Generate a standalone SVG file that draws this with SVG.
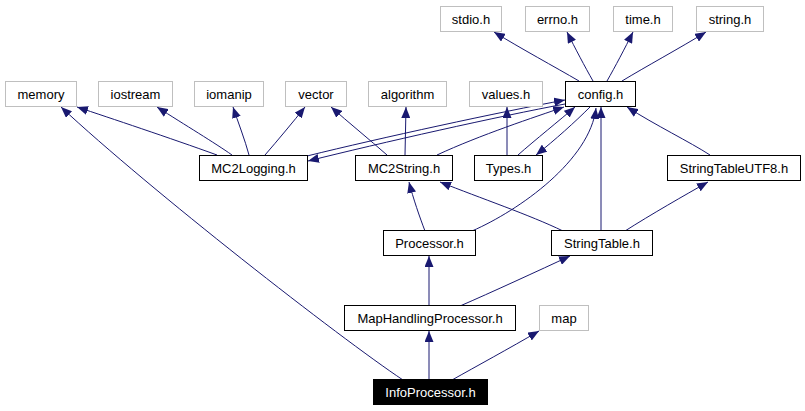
<svg xmlns="http://www.w3.org/2000/svg" width="805" height="411" viewBox="0 0 805 411">
<style>
.n rect{fill:#fff;stroke:#000;stroke-width:1}
.g rect{fill:#fff;stroke:#bfbfbf;stroke-width:1}
.r rect{fill:#000;stroke:#000;stroke-width:1}
text{font-family:"Liberation Sans",Arial,sans-serif;font-size:13px;text-anchor:middle;fill:#000}
.r text{fill:#fff}
#edges path{fill:none;stroke:#191970;stroke-width:1;marker-end:url(#a)}
</style>
<defs>
<marker id="a" markerUnits="userSpaceOnUse" markerWidth="11" markerHeight="9" refX="11" refY="4.5" orient="auto" viewBox="0 0 11 9"><path d="M0,0L11,4.5L0,9z" fill="#191970"/></marker>
</defs>
<rect width="805" height="411" fill="#fff"/>
<g id="edges">
<path d="M429,380L429,331"/>
<path d="M452,380C475,367 510,348 539,331"/>
<path d="M403,380C340,338 150,190 61,107"/>
<path d="M429,306L429,256"/>
<path d="M460,306C490,293 540,270 570,256"/>
<path d="M425,231C420,218 413,198 409,182"/>
<path d="M472,231C520,210 590,160 596,108"/>
<path d="M563,231C530,215 480,198 440,182"/>
<path d="M601,231L601,107"/>
<path d="M625,231C650,215 685,195 708,182"/>
<path d="M710,155C690,142 655,125 627,107"/>
<path d="M579,81C555,67 520,48 494,32"/>
<path d="M593,81C585,67 575,48 567,32"/>
<path d="M607,81C615,67 625,48 633,32"/>
<path d="M622,81C645,67 680,48 706,32"/>
<path d="M507,155L507,107"/>
<path d="M518,155C535,140 560,120 575,107"/>
<path d="M590,107C575,122 555,140 536,155"/>
<path d="M437,155C480,135 535,117 564,107"/>
<path d="M307,156C380,138 500,112 565,100"/>
<path d="M565,104C500,116 380,143 308,161"/>
<path d="M217,155C170,138 110,118 77,107"/>
<path d="M232,155C215,143 185,125 157,107"/>
<path d="M249,155C245,140 238,122 233,107"/>
<path d="M265,155C278,140 293,122 305,107"/>
<path d="M387,155C370,140 348,122 331,107"/>
<path d="M405,155L406,107"/>
</g>
<g id="stdio" class="g"><rect x="440.5" y="6.5" width="61" height="25"/><text x="471" y="23.5">stdio.h</text></g>
<g id="errno" class="g"><rect x="525.5" y="6.5" width="64" height="25"/><text x="557.5" y="23.5">errno.h</text></g>
<g id="time" class="g"><rect x="613.5" y="6.5" width="59" height="25"/><text x="643" y="23.5">time.h</text></g>
<g id="string" class="g"><rect x="696.5" y="6.5" width="67" height="25"/><text x="730" y="23.5">string.h</text></g>
<g id="memory" class="g"><rect x="5.5" y="81.5" width="71" height="25"/><text x="41" y="98.5">memory</text></g>
<g id="iostream" class="g"><rect x="98.5" y="81.5" width="74" height="25"/><text x="135.5" y="98.5">iostream</text></g>
<g id="iomanip" class="g"><rect x="194.5" y="81.5" width="69" height="25"/><text x="229" y="98.5">iomanip</text></g>
<g id="vector" class="g"><rect x="285.5" y="81.5" width="61" height="25"/><text x="316" y="98.5">vector</text></g>
<g id="algorithm" class="g"><rect x="368.5" y="81.5" width="78" height="25"/><text x="407.5" y="98.5">algorithm</text></g>
<g id="values" class="g"><rect x="469.5" y="81.5" width="73" height="25"/><text x="506" y="98.5">values.h</text></g>
<g id="config" class="n"><rect x="565.5" y="81.5" width="70" height="25"/><text x="600.5" y="98.5">config.h</text></g>
<g id="MC2Logging" class="n"><rect x="199.5" y="155.5" width="108" height="25"/><text x="253.5" y="172.5">MC2Logging.h</text></g>
<g id="MC2String" class="n"><rect x="355.5" y="155.5" width="97" height="25"/><text x="404" y="172.5">MC2String.h</text></g>
<g id="Types" class="n"><rect x="474.5" y="155.5" width="68" height="25"/><text x="508.5" y="172.5">Types.h</text></g>
<g id="StringTableUTF8" class="n"><rect x="667.5" y="155.5" width="133" height="25"/><text x="734" y="172.5">StringTableUTF8.h</text></g>
<g id="Processor" class="n"><rect x="383.5" y="230.5" width="92" height="25"/><text x="429.5" y="247.5">Processor.h</text></g>
<g id="StringTable" class="n"><rect x="551.5" y="230.5" width="101" height="25"/><text x="602" y="247.5">StringTable.h</text></g>
<g id="MapHandlingProcessor" class="n"><rect x="344.5" y="305.5" width="171" height="25"/><text x="430" y="322.5">MapHandlingProcessor.h</text></g>
<g id="map" class="g"><rect x="539.5" y="305.5" width="49" height="25"/><text x="564" y="322.5">map</text></g>
<g id="InfoProcessor" class="r"><rect x="373.5" y="379.5" width="114" height="25"/><text x="430.5" y="396.5">InfoProcessor.h</text></g>
</svg>
